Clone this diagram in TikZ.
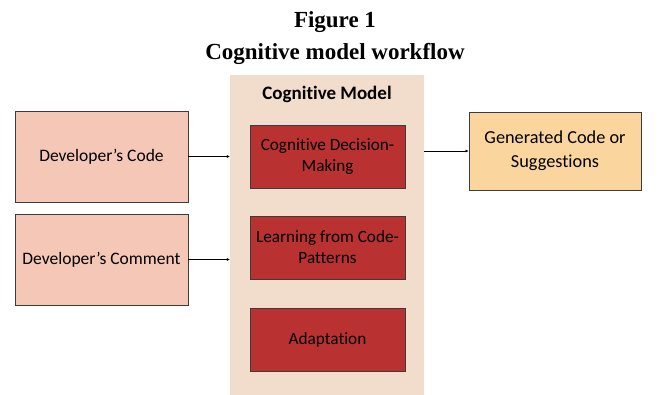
\documentclass[tikz,border=0pt]{standalone}
\usepackage{fontspec}
\setmainfont{Liberation Serif}
\setsansfont{Carlito}[Ligatures=NoCommon]
\usetikzlibrary{arrows.meta}

\definecolor{modelbg}{RGB}{242,220,203}
\definecolor{inputfill}{RGB}{245,199,182}
\definecolor{stagefill}{RGB}{185,49,49}
\definecolor{outputfill}{RGB}{250,214,158}
\definecolor{edgegray}{RGB}{60,60,60}

\tikzset{
  inputbox/.style={draw=edgegray, line width=0.9bp, fill=inputfill, minimum width=173bp,
    minimum height=91bp, align=center, font=\sffamily\fontsize{17.5bp}{21bp}\selectfont},
  stagebox/.style={draw=edgegray, line width=0.9bp, fill=stagefill, minimum width=155bp,
    minimum height=63bp, align=center, font=\sffamily\fontsize{17.2bp}{21bp}\selectfont},
  outbox/.style={draw=edgegray, line width=0.9bp, fill=outputfill, minimum width=172bp,
    minimum height=78bp, align=center, font=\sffamily\fontsize{18.3bp}{24bp}\selectfont},
  flow/.style={-{Latex[length=3bp,width=3bp]}, line width=0.9bp, black},
}

\begin{document}
\begin{tikzpicture}[x=1bp,y=-1bp]
    \useasboundingbox (0,0) rectangle (659,394);
    % title
    \node [font=\bfseries\fontsize{23bp}{32bp}\selectfont, align=center] (title) at (335,38) {Figure 1\\Cognitive model workflow};
    % model panel and its stages
    \node [fill=modelbg, minimum width=194bp, minimum height=320bp, inner sep=0pt] (model) at (327,235) {};
    \node [font=\sffamily\bfseries\fontsize{19bp}{22bp}\selectfont] (modeltitle) at (327,94) {Cognitive Model};
    \node [stagebox] (decide) at (327.5,156.5) {Cognitive Decision-\\Making};
    \node [stagebox] (learn) at (327.5,247.5) {Learning from Code-\\Patterns};
    \node [stagebox] (adapt) at (327.5,339.5) {Adaptation};
    % inputs
    \node [inputbox] (code) at (101.5,156.5) {Developer’s Code};
    \node [inputbox] (comment) at (101.5,259.5) {Developer’s Comment};
    % output
    \node [outbox] (output) at (555,151) {Generated Code or\\Suggestions};
    % arrows
    \draw [flow] (code.east) -- (code.east -| model.west);
    \draw [flow] (comment.east) -- (comment.east -| model.west);
    \draw [flow] (model.east |- output.west) -- (output.west);
\end{tikzpicture}
\end{document}
